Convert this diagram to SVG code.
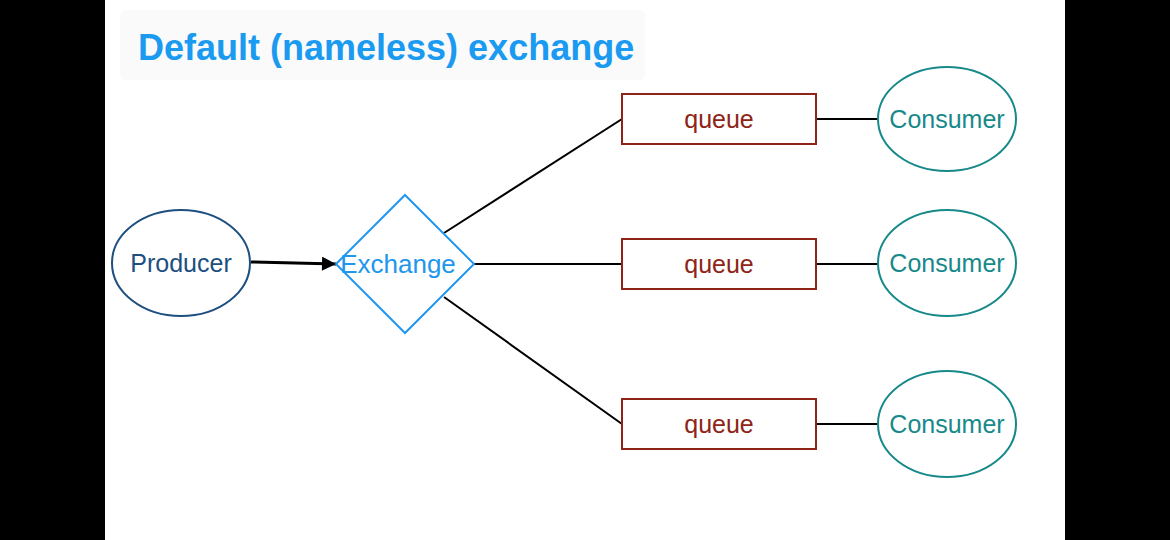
<svg xmlns="http://www.w3.org/2000/svg" width="1170" height="540" viewBox="0 0 1170 540">
<style>
text{font-family:"Liberation Sans",Arial,sans-serif;text-anchor:middle;dominant-baseline:central}
.q rect{fill:#fff;stroke:#8e2418;stroke-width:2}
.q text{fill:#8e2418;font-size:25px}
.c ellipse{fill:#fff;stroke:#17898a;stroke-width:2}
.c text{fill:#17898a;font-size:25px}
.ln{stroke:#000;stroke-width:2;fill:none}
</style>
<defs>
<marker id="ah" viewBox="0 0 10 10" refX="10" refY="5" markerWidth="16" markerHeight="14" markerUnits="userSpaceOnUse" orient="auto">
<path d="M0,0 L10,5 L0,10 z" fill="#000"/>
</marker>
</defs>
<rect x="0" y="0" width="1170" height="540" fill="#fff"/>
<rect x="0" y="0" width="105" height="540" fill="#000"/>
<rect x="1065" y="0" width="105" height="540" fill="#000"/>
<rect x="120" y="10" width="525" height="70" rx="6" fill="#fafafa"/>
<text id="title" x="138" y="47" style="text-anchor:start;font-size:36px;font-weight:bold;fill:#1a9af0">Default (nameless) exchange</text>
<g id="connectors">
<line x1="251" y1="262" x2="336" y2="264" stroke="#000" stroke-width="3" marker-end="url(#ah)"/>
<line class="ln" x1="444" y1="233" x2="622" y2="119"/>
<line class="ln" x1="474" y1="264" x2="622" y2="264"/>
<line class="ln" x1="444" y1="297" x2="622" y2="424"/>
<line class="ln" x1="816" y1="119" x2="878" y2="119"/>
<line class="ln" x1="816" y1="264" x2="878" y2="264"/>
<line class="ln" x1="816" y1="424" x2="878" y2="424"/>
</g>
<g id="producer">
<ellipse cx="181" cy="263" rx="69" ry="53" fill="#fff" stroke="#1d4f80" stroke-width="2"/>
<text x="181" y="263" style="fill:#1d4f80;font-size:25px">Producer</text>
</g>
<g id="exchange">
<polygon points="405,195 474,264 405,333 336,264" fill="#fff" stroke="#2196ee" stroke-width="2"/>
<text x="398" y="264" style="fill:#2196ee;font-size:26px">Exchange</text>
</g>
<g id="queue1" class="q"><rect x="622" y="94" width="194" height="50"/><text x="719" y="119">queue</text></g>
<g id="queue2" class="q"><rect x="622" y="239" width="194" height="50"/><text x="719" y="264">queue</text></g>
<g id="queue3" class="q"><rect x="622" y="399" width="194" height="50"/><text x="719" y="424">queue</text></g>
<g id="consumer1" class="c"><ellipse cx="947" cy="119" rx="69" ry="52"/><text x="947" y="119">Consumer</text></g>
<g id="consumer2" class="c"><ellipse cx="947" cy="263" rx="69" ry="53"/><text x="947" y="263">Consumer</text></g>
<g id="consumer3" class="c"><ellipse cx="947" cy="424" rx="69" ry="53"/><text x="947" y="424">Consumer</text></g>
</svg>
